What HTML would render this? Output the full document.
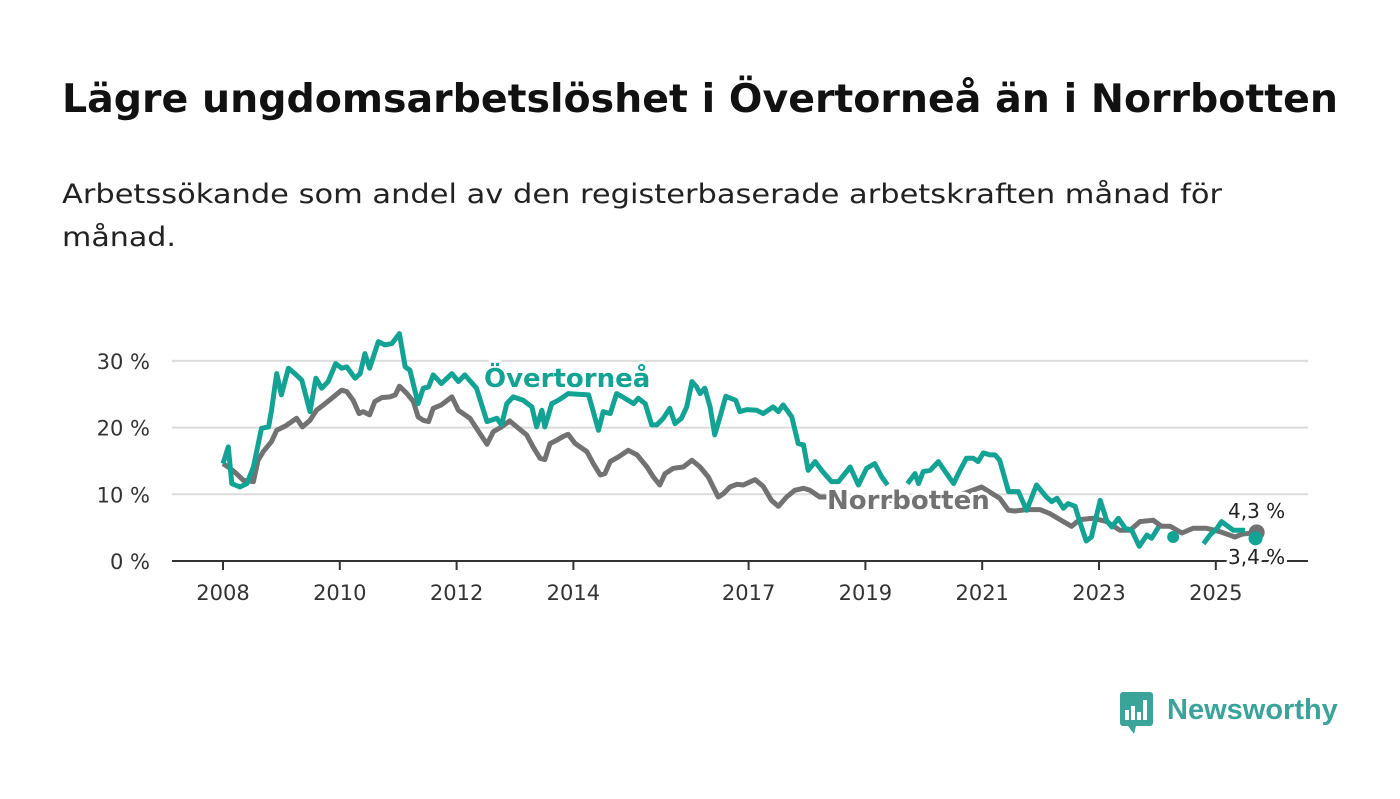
<!DOCTYPE html>
<html><head><meta charset="utf-8"><style>
body{margin:0;width:1400px;height:794px;background:#fff;overflow:hidden;font-family:"Liberation Sans",sans-serif}
</style></head><body>
<svg id="chart" width="1400" height="794" xmlns="http://www.w3.org/2000/svg" font-family="'DejaVu Sans','Liberation Sans',sans-serif">
<text x="62" y="112" font-size="39" font-weight="bold" fill="#111" textLength="1276" lengthAdjust="spacingAndGlyphs">Lägre ungdomsarbetslöshet i Övertorneå än i Norrbotten</text>
<text font-size="27" fill="#222"><tspan x="62" y="203" textLength="1160" lengthAdjust="spacingAndGlyphs">Arbetssökande som andel av den registerbaserade arbetskraften månad för</tspan><tspan x="62" y="246" textLength="114" lengthAdjust="spacingAndGlyphs">månad.</tspan></text>
<g id="grid"></g><g id="series"></g><g id="labels"></g>
<g>
<rect x="1120" y="692" width="33" height="34" rx="3" fill="#3aa39a"/>
<path d="M1128 726 L1134 734 L1136 726 Z" fill="#3aa39a"/>
<rect x="1125" y="710" width="4" height="10" fill="#fff"/><rect x="1131" y="706" width="4" height="14" fill="#fff"/><rect x="1137" y="712" width="4" height="8" fill="#fff"/><rect x="1143" y="700" width="4" height="20" fill="#fff"/>
<text x="1167" y="719" font-family="'Liberation Sans',sans-serif" font-size="29" font-weight="bold" fill="#3aa39a">Newsworthy</text>
</g>
</svg>
<script>
const yTicks=[0,10,20,30];
const yTickLabels=["0 %","10 %","20 %","30 %"];
const xTicks=[2008,2010,2012,2014,2017,2019,2021,2023,2025];
const overDates=[2008.0,2008.09,2008.15,2008.29,2008.41,2008.52,2008.66,2008.78,2008.83,2008.92,2009.0,2009.12,2009.23,2009.35,2009.49,2009.59,2009.69,2009.8,2009.93,2010.03,2010.12,2010.26,2010.35,2010.43,2010.51,2010.66,2010.77,2010.89,2011.02,2011.12,2011.2,2011.34,2011.43,2011.52,2011.6,2011.74,2011.92,2012.03,2012.14,2012.34,2012.52,2012.69,2012.77,2012.86,2012.97,2013.14,2013.29,2013.37,2013.46,2013.51,2013.63,2013.74,2013.83,2013.91,2014.26,2014.43,2014.51,2014.63,2014.74,2014.84,2015.03,2015.11,2015.23,2015.34,2015.43,2015.54,2015.65,2015.74,2015.85,2015.94,2016.03,2016.11,2016.17,2016.25,2016.34,2016.42,2016.51,2016.61,2016.78,2016.85,2016.97,2017.14,2017.25,2017.42,2017.51,2017.59,2017.74,2017.85,2017.94,2018.02,2018.14,2018.25,2018.42,2018.54,2018.74,2018.88,2019.02,2019.16,2019.28,2019.38,2019.55,2019.72,2019.85,2019.91,2019.99,2020.11,2020.25,2020.39,2020.51,2020.62,2020.73,2020.85,2020.93,2021.02,2021.13,2021.22,2021.3,2021.45,2021.62,2021.76,2021.93,2022.1,2022.19,2022.28,2022.39,2022.47,2022.59,2022.67,2022.78,2022.87,2023.02,2023.13,2023.22,2023.33,2023.45,2023.56,2023.69,2023.82,2023.9,2024.02,2024.15,2024.64,2024.79,2024.9,2025.02,2025.1,2025.3,2025.5];
const overVals=[14.6,17.1,11.6,11.1,11.6,14.1,19.9,20.1,22.6,28.1,24.9,28.9,28.1,27.1,22.4,27.4,25.9,26.9,29.6,28.9,29.1,27.4,28.1,31.1,28.9,32.9,32.4,32.6,34.1,29.1,28.6,23.6,25.9,26.1,27.9,26.6,28.1,26.9,27.9,25.9,20.9,21.4,20.4,23.6,24.6,24.1,23.1,20.1,22.6,20.1,23.6,24.1,24.6,25.1,24.9,19.6,22.4,22.1,25.1,24.6,23.6,24.4,23.6,20.4,20.4,21.4,22.9,20.6,21.4,23.1,26.9,26.1,25.1,25.9,23.1,18.9,21.6,24.7,24.1,22.4,22.7,22.6,22.1,23.1,22.4,23.4,21.6,17.6,17.4,13.6,14.9,13.6,11.9,11.9,14.1,11.4,13.9,14.6,12.6,11.4,null,11.6,13.1,11.6,13.4,13.6,14.9,13.1,11.6,13.6,15.4,15.4,14.9,16.2,15.9,15.9,15.1,10.4,10.4,7.6,11.4,9.6,8.9,9.4,7.9,8.6,8.2,5.9,3.0,3.6,9.1,6.1,5.1,6.4,4.9,4.6,2.2,3.9,3.4,5.1,null,null,2.6,3.9,4.9,5.9,4.6,4.6,null];
const normDates=[2008.0,2008.12,2008.23,2008.35,2008.52,2008.6,2008.69,2008.83,2008.92,2009.06,2009.18,2009.26,2009.36,2009.49,2009.6,2009.75,2009.89,2010.03,2010.12,2010.23,2010.33,2010.4,2010.51,2010.6,2010.72,2010.86,2010.95,2011.02,2011.15,2011.26,2011.34,2011.43,2011.52,2011.6,2011.74,2011.92,2012.03,2012.23,2012.34,2012.52,2012.63,2012.77,2012.91,2013.03,2013.2,2013.31,2013.43,2013.51,2013.6,2013.71,2013.83,2013.91,2014.03,2014.23,2014.34,2014.46,2014.54,2014.63,2014.77,2014.94,2015.09,2015.26,2015.37,2015.48,2015.57,2015.71,2015.88,2016.03,2016.17,2016.31,2016.48,2016.57,2016.68,2016.8,2016.91,2017.11,2017.25,2017.39,2017.51,2017.65,2017.79,2017.94,2018.05,2018.22,2019.0,2019.5,2020.0,2020.5,2020.99,2021.3,2021.45,2021.56,2021.76,2021.99,2022.16,2022.39,2022.53,2022.67,2022.9,2023.13,2023.36,2023.53,2023.7,2023.93,2024.07,2024.22,2024.42,2024.61,2024.84,2025.07,2025.33,2025.44,2025.7];
const normVals=[14.6,13.9,13.1,12.1,11.9,15.1,16.4,17.9,19.6,20.2,20.9,21.4,20.1,21.1,22.6,23.6,24.6,25.6,25.4,24.1,22.1,22.4,21.9,23.9,24.5,24.6,24.9,26.2,25.1,23.9,21.6,21.1,20.9,22.9,23.4,24.6,22.6,21.4,19.9,17.5,19.4,20.1,21.0,20.1,18.9,17.1,15.4,15.2,17.6,18.1,18.7,19.0,17.6,16.4,14.6,12.9,13.1,14.9,15.6,16.6,15.9,14.1,12.6,11.4,13.1,13.9,14.1,15.1,14.1,12.6,9.6,10.1,11.1,11.5,11.4,12.2,11.2,9.1,8.2,9.6,10.6,10.9,10.6,9.6,9.6,9.0,9.5,9.5,11.1,9.4,7.6,7.5,7.7,7.7,7.1,5.9,5.2,6.2,6.4,5.9,4.6,4.6,5.9,6.1,5.2,5.2,4.2,4.9,4.9,4.4,3.6,4.0,4.3];
const lastLabels=["4,3 %","3,4 %"];
const X=y=>223+(y-2008)*58.4, Y=v=>561-v*6.67;
const NS="http://www.w3.org/2000/svg";
function mk(t,a,p){const e=document.createElementNS(NS,t);for(const k in a)e.setAttribute(k,a[k]);p.appendChild(e);return e;}
const grid=document.getElementById('grid'),ser=document.getElementById('series'),lab=document.getElementById('labels');
yTicks.forEach((t,i)=>{
 if(t>0){const g=mk('line',{x1:172,x2:1308,y1:Y(t),y2:Y(t),stroke:'#dcdcdc','stroke-width':2},grid);
 
 }
 const l=mk('text',{x:150,y:Y(t)+8,'text-anchor':'end','font-size':21,fill:'#333'},grid);l.textContent=yTickLabels[i];
 
 
});
const ax=mk('line',{x1:172,x2:1308,y1:561,y2:561,stroke:'#333','stroke-width':2},grid);


xTicks.forEach(t=>{
 mk('line',{x1:X(t),x2:X(t),y1:561,y2:570,stroke:'#333','stroke-width':2},grid);
 const l=mk('text',{x:X(t),y:600,'text-anchor':'middle','font-size':21,fill:'#333'},grid);l.textContent=t;
 
 
});
function path(ds,vs){let d='',pen=false;ds.forEach((t,i)=>{const v=vs[i];if(v==null){pen=false;return;}d+=(pen?'L':'M')+X(t).toFixed(1)+' '+Y(v).toFixed(1);pen=true;});return d;}
const pn=mk('path',{d:path(normDates,normVals),fill:'none',stroke:'#727272','stroke-width':5,'stroke-linejoin':'round'},ser);


const po=mk('path',{d:path(overDates,overVals),fill:'none',stroke:'#12a394','stroke-width':5,'stroke-linejoin':'round'},ser);


const dn=mk('circle',{cx:X(normDates[normDates.length-1]),cy:Y(normVals[normVals.length-1]),r:8,fill:'#727272'},ser);


const dv=mk('circle',{cx:X(2025.68),cy:Y(3.4),r:7,fill:'#12a394'},ser);


const dd=mk('circle',{cx:X(2024.27),cy:Y(3.6),r:6,fill:'#12a394'},ser);


function label(txt,x,y,fill,size,bold,name){const t=mk('text',{x:x,y:y,'font-size':size,'font-weight':bold?'bold':'normal',fill:fill,stroke:'#fff','stroke-width':6,'paint-order':'stroke','stroke-linejoin':'round'},lab);t.textContent=txt;
 
 return t;}
label('Övertorneå',484,387,'#12a394',26,true,'overtornea-label');
label('Norrbotten',827,509,'#727272',26,true,'norrbotten-label');
label(lastLabels[0],1228,518,'#222',20,false,'norrbotten-last-value');
label(lastLabels[1],1228,564,'#222',20,false,'overtornea-last-value');
</script>
</body></html>
